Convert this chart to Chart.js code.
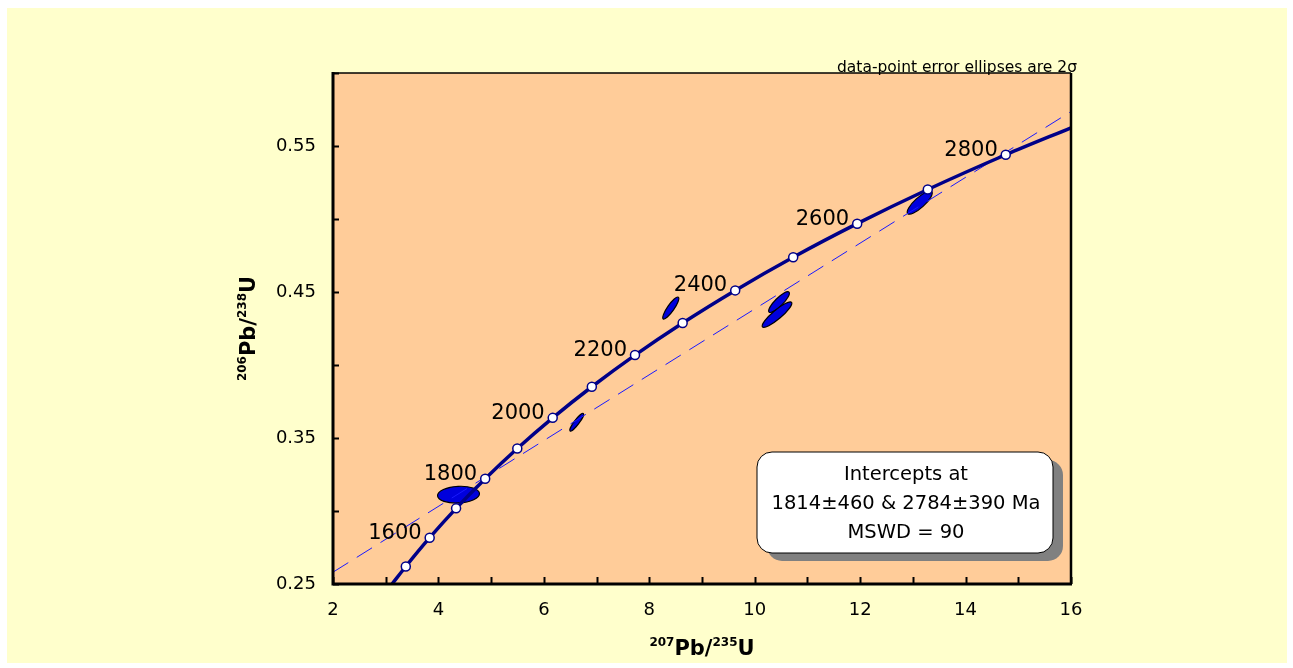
<!DOCTYPE html>
<html>
<head>
<meta charset="utf-8">
<title>Concordia</title>
<script src="https://cdn.jsdelivr.net/npm/chart.js@4.4.1/dist/chart.umd.min.js"></script>
<style>
html,body{margin:0;padding:0;background:#fff;}
canvas{display:block;}
</style>
</head>
<body>
<canvas id="chart" width="1293" height="668"></canvas>
<script>
// ---------- data ----------
// concordia age markers (Ma) and their ratios
const concordiaAges = [1500,1600,1700,1800,1900,2000,2100,2200,2300,2400,2500,2600,2700,2800];
const concordiaX = [3.381,3.834,4.335,4.887,5.496,6.168,6.910,7.729,8.633,9.630,10.730,11.944,13.283,14.762];
const concordiaY = [0.2620,0.2817,0.3018,0.3221,0.3428,0.3638,0.3851,0.4068,0.4288,0.4511,0.4738,0.4968,0.5202,0.5440];
const curveStart = [3.12, 0.25];
const curveEnd = [16, 0.5625];
const ageLabels = [1600,1800,2000,2200,2400,2600,2800];

// discordia (dashed)
const discordiaX = [2, 16];
const discordiaY = [0.2581, 0.5736];

// error ellipses, 2 sigma
const ellX    = [4.381, 6.623, 8.408, 10.461, 10.423, 13.130];
const ellY    = [0.3112, 0.3608, 0.4390, 0.4431, 0.4345, 0.5112];
const ellErrX = [0.398, 0.131, 0.1525, 0.1966, 0.2816, 0.237];
const ellErrY = [0.00575, 0.00612, 0.00755, 0.00712, 0.00872, 0.00788];
const ellRho  = [0.11, 0.897, 0.870, 0.851, 0.891, 0.824];

const xLabelTicks = [2,4,6,8,10,12,14,16];
const yLabelTicks = [0.25,0.35,0.45,0.55];
const interceptLines = ['Intercepts at', '1814±460 & 2784±390 Ma', 'MSWD = 90'];
const noteText = 'data-point error ellipses are 2σ';

// ---------- helpers ----------
const FONT = '"DejaVu Sans", sans-serif';
const NAVY = '#000088';

function drawSupText(ctx, parts, x, y){
  const big = 'bold 21px ' + FONT, small = 'bold 12px ' + FONT;
  let w = 0;
  parts.forEach(p => { ctx.font = p.sup ? small : big; w += ctx.measureText(p.t).width; });
  let cx = x - w/2;
  ctx.textAlign = 'left';
  ctx.textBaseline = 'alphabetic';
  parts.forEach(p => {
    ctx.font = p.sup ? small : big;
    ctx.fillText(p.t, cx, p.sup ? y - 9 : y);
    cx += ctx.measureText(p.t).width;
  });
}

function roundRect(ctx, x, y, w, h, r){
  ctx.beginPath();
  ctx.moveTo(x+r, y);
  ctx.arcTo(x+w, y, x+w, y+h, r);
  ctx.arcTo(x+w, y+h, x, y+h, r);
  ctx.arcTo(x, y+h, x, y, r);
  ctx.arcTo(x, y, x+w, y, r);
  ctx.closePath();
}

// ---------- plugins ----------
const backdrop = {
  id: 'backdrop',
  beforeDraw(chart){
    const {ctx, chartArea: a} = chart;
    ctx.save();
    ctx.fillStyle = '#ffffff';
    ctx.fillRect(0, 0, chart.width, chart.height);
    ctx.fillStyle = '#FFFFCC';
    ctx.fillRect(7, 8, 1280, 655);
    ctx.fillStyle = '#FFCC99';
    ctx.fillRect(a.left, a.top, a.right - a.left, a.bottom - a.top);
    ctx.restore();
  }
};

const ellipses = {
  id: 'ellipses',
  beforeDatasetsDraw(chart){
    const {ctx, scales: {x, y}} = chart;
    const kx = Math.abs(x.getPixelForValue(3) - x.getPixelForValue(2));
    const ky = Math.abs(y.getPixelForValue(0.35) - y.getPixelForValue(0.25)) * 10;
    ctx.save();
    ellX.forEach((v, i) => {
      const cx = x.getPixelForValue(v), cy = y.getPixelForValue(ellY[i]);
      const sx = ellErrX[i]*kx, sy = ellErrY[i]*ky, c = ellRho[i]*sx*sy;
      const m = (sx*sx + sy*sy)/2, d = Math.sqrt(((sx*sx - sy*sy)/2)**2 + c*c);
      const A = Math.sqrt(m + d), B = Math.sqrt(Math.max(m - d, 0.5));
      const th = 0.5*Math.atan2(2*c, sx*sx - sy*sy);
      ctx.beginPath();
      ctx.ellipse(cx, cy, A, B, -th, 0, Math.PI*2);
      ctx.fillStyle = '#0000DD';
      ctx.fill();
      ctx.lineWidth = 1.2;
      ctx.strokeStyle = '#000000';
      ctx.stroke();
    });
    ctx.restore();
  }
};

const decor = {
  id: 'decor',
  afterDraw(chart){
    const {ctx, chartArea: a, scales: {x, y}} = chart;
    ctx.save();
    ctx.strokeStyle = '#000';
    ctx.lineCap = 'butt';

    // tick marks, pointing inward
    ctx.lineWidth = 2;
    x.ticks.forEach(t => {
      const px = Math.round(x.getPixelForValue(t.value)) + 0.5;
      ctx.beginPath(); ctx.moveTo(px, a.bottom); ctx.lineTo(px, a.bottom - 7); ctx.stroke();
    });
    y.ticks.forEach(t => {
      const py = Math.round(y.getPixelForValue(t.value)) + 0.5;
      ctx.beginPath(); ctx.moveTo(a.left, py); ctx.lineTo(a.left + 6, py); ctx.stroke();
    });

    // frame
    ctx.lineWidth = 1.5;
    ctx.beginPath(); ctx.moveTo(a.left, a.top); ctx.lineTo(a.right, a.top); ctx.stroke();
    ctx.lineWidth = 2.5;
    ctx.beginPath(); ctx.moveTo(a.right, a.top); ctx.lineTo(a.right, a.bottom); ctx.stroke();
    ctx.lineWidth = 3;
    ctx.beginPath(); ctx.moveTo(a.left, a.top - 1); ctx.lineTo(a.left, a.bottom); ctx.lineTo(a.right + 1, a.bottom); ctx.stroke();

    // age labels next to concordia markers
    const meta = chart.getDatasetMeta(0);
    ctx.fillStyle = '#000';
    ctx.font = '21px ' + FONT;
    ctx.textAlign = 'right';
    ctx.textBaseline = 'alphabetic';
    ageLabels.forEach(age => {
      const pt = meta.data[concordiaAges.indexOf(age) + 1];
      ctx.fillText(String(age), pt.x - 8, pt.y + 1);
    });

    // note above the plot
    ctx.font = '15.5px ' + FONT;
    ctx.fillText(noteText, a.right + 6, a.top - 1);

    // axis titles
    drawSupText(ctx, [{t:'207', sup:true}, {t:'Pb/'}, {t:'235', sup:true}, {t:'U'}], (a.left + a.right)/2, 655);
    ctx.save();
    ctx.translate(255, (a.top + a.bottom)/2);
    ctx.rotate(-Math.PI/2);
    drawSupText(ctx, [{t:'206', sup:true}, {t:'Pb/'}, {t:'238', sup:true}, {t:'U'}], 0, 0);
    ctx.restore();

    // intercepts box
    const bx = a.right - 314, by = a.bottom - 132, bw = 296, bh = 101;
    ctx.fillStyle = '#808080';
    roundRect(ctx, bx + 10, by + 8, bw, bh, 15);
    ctx.fill();
    ctx.fillStyle = '#ffffff';
    roundRect(ctx, bx, by, bw, bh, 15);
    ctx.fill();
    ctx.lineWidth = 1;
    ctx.strokeStyle = '#000';
    ctx.stroke();
    ctx.fillStyle = '#000';
    ctx.font = '19.5px ' + FONT;
    ctx.textAlign = 'center';
    interceptLines.forEach((line, i) => {
      ctx.fillText(line, bx + bw/2 + 1, by + 28 + i*29);
    });
    ctx.restore();
  }
};

// ---------- chart ----------
const concordiaPts = [{x: curveStart[0], y: curveStart[1]}]
  .concat(concordiaX.map((v, i) => ({x: v, y: concordiaY[i]})))
  .concat([{x: curveEnd[0], y: curveEnd[1]}]);
const markerRadius = concordiaPts.map((p, i) => (i === 0 || i === concordiaPts.length - 1) ? 0 : 4.5);

const tickFont = {family: FONT, size: 18};

new Chart(document.getElementById('chart'), {
  type: 'scatter',
  data: {
    datasets: [
      {
        data: concordiaPts,
        showLine: true,
        borderColor: NAVY,
        borderWidth: 3.5,
        cubicInterpolationMode: 'monotone',
        pointRadius: markerRadius,
        pointBackgroundColor: '#ffffff',
        pointBorderColor: NAVY,
        pointBorderWidth: 1.5
      },
      {
        data: discordiaX.map((v, i) => ({x: v, y: discordiaY[i]})),
        showLine: true,
        borderColor: '#1a1aff',
        borderWidth: 1,
        borderDash: [18, 10],
        pointRadius: 0
      }
    ]
  },
  options: {
    responsive: false,
    animation: false,
    events: [],
    devicePixelRatio: 1,
    layout: {padding: {top: 73, right: 222, left: 0, bottom: 0}},
    plugins: {legend: {display: false}, tooltip: {enabled: false}},
    scales: {
      x: {
        type: 'linear', min: 2, max: 16,
        grid: {display: false, drawTicks: false},
        border: {display: false},
        afterFit: s => { s.height = 84; },
        ticks: {
          stepSize: 1, autoSkip: false, maxRotation: 0, padding: 16,
          color: '#000', font: tickFont,
          callback: v => xLabelTicks.includes(v) ? String(v) : ''
        }
      },
      y: {
        type: 'linear', min: 0.25, max: 0.6,
        grid: {display: false, drawTicks: false},
        border: {display: false},
        afterFit: s => { s.width = 333; },
        ticks: {
          stepSize: 0.05, autoSkip: false, padding: 17,
          color: '#000', font: tickFont,
          callback: v => {
            const k = yLabelTicks.find(t => Math.abs(t - v) < 1e-6);
            return k !== undefined ? k.toFixed(2) : '';
          }
        }
      }
    }
  },
  plugins: [backdrop, ellipses, decor]
});
</script>
</body>
</html>
